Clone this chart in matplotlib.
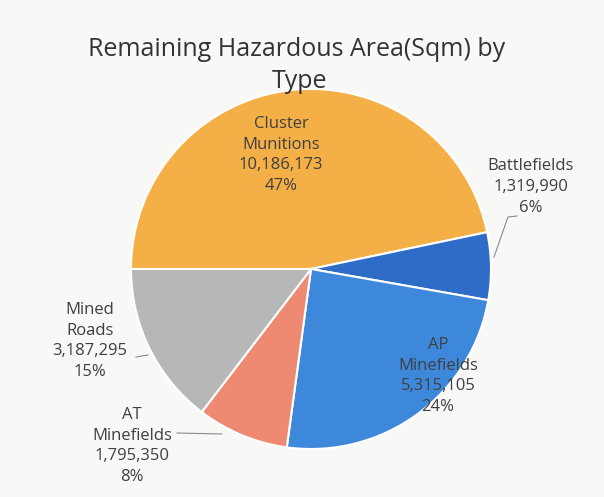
import matplotlib.pyplot as plt

# data
categories = ['Cluster\nMunitions', 'Battlefields', 'AP\nMinefields', 'AT\nMinefields', 'Mined\nRoads']
values = [10186173, 1319990, 5315105, 1795350, 3187295]
percents = [47, 6, 24, 8, 15]
colors = ['#F4B047', '#2F6CC8', '#3E88DC', '#EE8A72', '#B7B7B7']

W, H = 604, 497
CX, CY, R = 311, 269, 180

fig = plt.figure(figsize=(W / 100, H / 100), dpi=100)
fig.patch.set_facecolor('#F8F8F6')

ax = fig.add_axes([(CX - R) / W, (H - CY - R) / H, 2 * R / W, 2 * R / H])
ax.pie(values, colors=colors, startangle=180, counterclock=False, radius=1,
       wedgeprops=dict(edgecolor='white', linewidth=1.5))
ax.set_xlim(-1, 1)
ax.set_ylim(-1, 1)
ax.set_aspect('equal')
ax.axis('off')

font = 'Open Sans'
tcol = '#3F3F3F'

def px(x, y):
    return (x - CX) / R, (CY - y) / R

labels = [f'{c}\n{v:,}\n{p}%' for c, v, p in zip(categories, values, percents)]
label_pos = [px(281, 155), px(531, 187), px(438, 376), px(132, 446), px(90, 341)]
for lab, pos in zip(labels, label_pos):
    ax.text(pos[0], pos[1], lab, ha='center', va='center', fontsize=12,
            family=font, color=tcol, linespacing=1.4, clip_on=False)

# leader lines
lc = '#8A8A8A'
for pts in [[(517, 216), (508, 217), (494, 257)],
            [(177, 433), (222, 434)],
            [(136, 357), (148, 355)]]:
    xs, ys = zip(*[px(a, b) for a, b in pts])
    ax.plot(xs, ys, color=lc, linewidth=0.8, clip_on=False)

fig.text(297 / W, 1 - 50 / H, 'Remaining Hazardous Area(Sqm) by', ha='center', va='center',
         fontsize=18, family=font, color='#333333')
fig.text(300 / W, 1 - 81 / H, 'Type', ha='center', va='center',
         fontsize=18, family=font, color='#333333')

fig.savefig('out.png', dpi=100, facecolor=fig.get_facecolor())
